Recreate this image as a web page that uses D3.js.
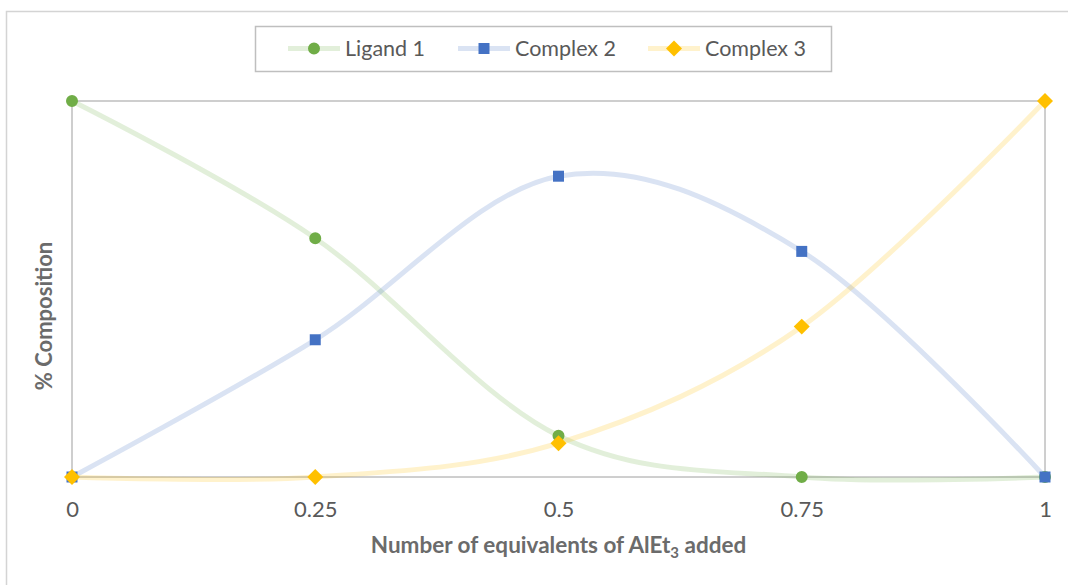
<!DOCTYPE html>
<html>
<head>
<meta charset="utf-8">
<script src="https://cdn.jsdelivr.net/npm/d3@7"></script>
<style>
  html, body { margin: 0; padding: 0; background: #fff; }
  svg { display: block; }
  text { font-family: Lato, "Noto Sans", sans-serif; }
</style>
</head>
<body>
<svg id="chart" width="1068" height="585"></svg>
<script>
// Equivalents of AlEt3 added (x) and % composition of each species
const equivalents = [0, 0.25, 0.5, 0.75, 1];
const tickLabels = ["0", "0.25", "0.5", "0.75", "1"];
const seriesNames = ["Ligand 1", "Complex 2", "Complex 3"];
const ligand1 = [100, 63.5, 11, 0, 0];
const complex2 = [0, 36.5, 80, 60, 0];
const complex3 = [0, 0, 9, 40, 100];

const seriesValues = [ligand1, complex2, complex3];
const markerColors = ["#70ad47", "#4472c4", "#ffc000"];
const markerShapes = [d3.symbolCircle, d3.symbolSquare, d3.symbolDiamond2];
const markerSizes = [113, 121, 162];

const svg = d3.select("#chart");
const W = 1068, H = 585;
const plot = { left: 72, right: 1045, top: 101, bottom: 477 };

// Chart frame
svg.append("rect")
  .attr("x", 6.5).attr("y", 11.5)
  .attr("width", W + 10).attr("height", H + 10)
  .attr("fill", "#fff").attr("stroke", "#d4d4d4").attr("stroke-width", 1.5);

const x = d3.scaleLinear().domain([0, 1]).range([plot.left, plot.right]);
const y = d3.scaleLinear().domain([0, 100]).range([plot.bottom, plot.top]);

// Plot area outline
svg.append("rect")
  .attr("x", plot.left).attr("y", plot.top)
  .attr("width", plot.right - plot.left).attr("height", plot.bottom - plot.top)
  .attr("fill", "none").attr("stroke", "#bfbfbf").attr("stroke-width", 1.5);

// X axis labels
const xAxis = d3.axisBottom(x)
  .tickValues(equivalents)
  .tickSize(0)
  .tickPadding(0)
  .tickFormat((d, i) => tickLabels[i]);
const gx = svg.append("g").attr("transform", `translate(0,${plot.bottom})`).call(xAxis);
gx.select(".domain").remove();
gx.selectAll("text")
  .attr("y", 40).attr("dy", null)
  .attr("fill", "#595959")
  .style("font-size", "22px");

// Smoothed series lines
const line = d3.line()
  .x((d, i) => x(equivalents[i]))
  .y(d => y(d))
  .curve(d3.curveCardinal.tension(0));

seriesValues.forEach((vals, s) => {
  svg.append("path")
    .datum(vals)
    .attr("d", line)
    .attr("fill", "none")
    .attr("stroke", markerColors[s])
    .attr("stroke-opacity", 0.2)
    .attr("stroke-width", 5)
    .attr("stroke-linejoin", "round");
});

// Markers
seriesValues.forEach((vals, s) => {
  svg.append("g").selectAll("path")
    .data(vals)
    .join("path")
    .attr("transform", (d, i) => `translate(${x(equivalents[i])},${y(d)})`)
    .attr("d", d3.symbol().type(markerShapes[s]).size(markerSizes[s]))
    .attr("fill", markerColors[s]);
});

// Axis titles
const xTitle = svg.append("text")
  .attr("x", (plot.left + plot.right) / 2)
  .attr("y", 553)
  .attr("text-anchor", "middle")
  .attr("fill", "#6b6b6b")
  .style("font-size", "22.5px")
  .style("font-weight", "bold");
xTitle.append("tspan").text("Number of equivalents of AlEt");
xTitle.append("tspan").attr("dy", 5).style("font-size", "15px").text("3");
xTitle.append("tspan").attr("dy", -5).text(" added");

svg.append("text")
  .attr("transform", "translate(52,316) rotate(-90)")
  .attr("text-anchor", "middle")
  .attr("fill", "#6b6b6b")
  .style("font-size", "22px")
  .style("font-weight", "bold")
  .text("% Composition");

// Legend
const legend = svg.append("g");
legend.append("rect")
  .attr("x", 255.5).attr("y", 26.5)
  .attr("width", 576).attr("height", 45)
  .attr("fill", "#fff").attr("stroke", "#bfbfbf").attr("stroke-width", 1.5);

const legendX = [314, 484, 674];
seriesNames.forEach((name, s) => {
  const g = legend.append("g").attr("transform", `translate(${legendX[s]},48.5)`);
  g.append("line")
    .attr("x1", -26).attr("x2", 26)
    .attr("stroke", markerColors[s]).attr("stroke-opacity", 0.2)
    .attr("stroke-width", 5);
  g.append("path")
    .attr("d", d3.symbol().type(markerShapes[s]).size(markerSizes[s]))
    .attr("fill", markerColors[s]);
  g.append("text")
    .attr("x", 31).attr("y", 7.5)
    .attr("fill", "#595959")
    .style("font-size", "21.5px")
    .text(name);
});
</script>
</body>
</html>
